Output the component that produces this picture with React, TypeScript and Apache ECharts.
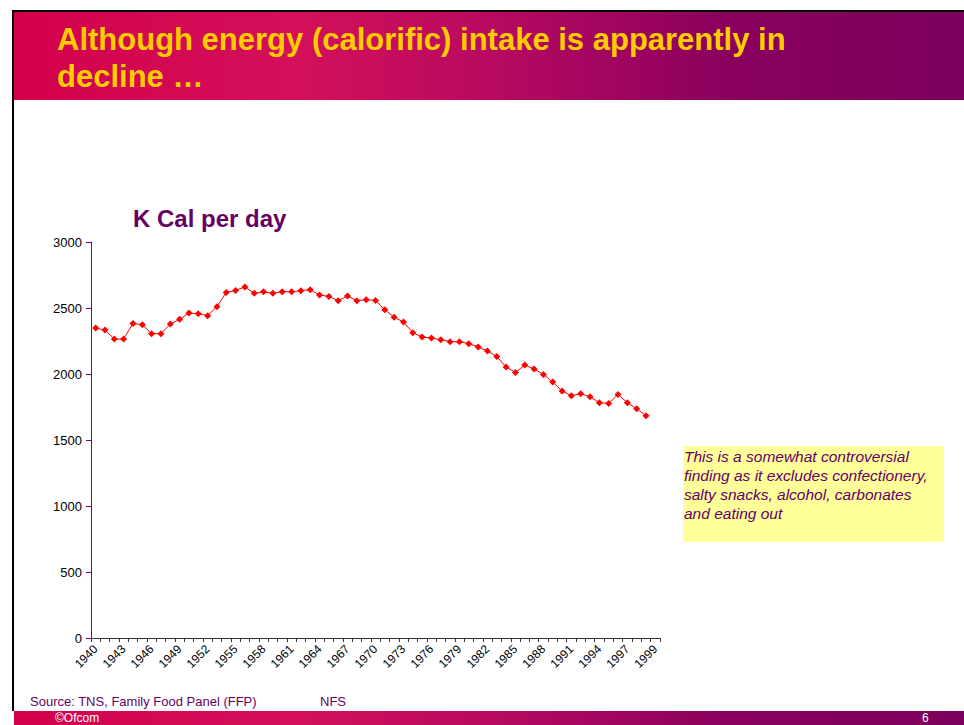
import React, { useEffect, useRef } from "react";
import * as echarts from "echarts";

const years: string[] = [
  "1940","1941","1942","1943","1944","1945","1946","1947","1948","1949",
  "1950","1951","1952","1953","1954","1955","1956","1957","1958","1959",
  "1960","1961","1962","1963","1964","1965","1966","1967","1968","1969",
  "1970","1971","1972","1973","1974","1975","1976","1977","1978","1979",
  "1980","1981","1982","1983","1984","1985","1986","1987","1988","1989",
  "1990","1991","1992","1993","1994","1995","1996","1997","1998","1999","2000",
];

const tickLabels: string[] = [
  "1940","1943","1946","1949","1952","1955","1958","1961","1964","1967",
  "1970","1973","1976","1979","1982","1985","1988","1991","1994","1997","1999",
];

const kcal: (number | null)[] = [
  2348, 2333, 2265, 2265, 2383, 2373, 2305, 2305, 2379, 2414,
  2462, 2457, 2442, 2510, 2618, 2633, 2659, 2611, 2623, 2611,
  2623, 2623, 2631, 2639, 2598, 2588, 2555, 2591, 2555, 2563,
  2557, 2487, 2429, 2394, 2313, 2280, 2273, 2260, 2245, 2245,
  2230, 2205, 2174, 2133, 2053, 2012, 2068, 2038, 1997, 1939,
  1871, 1836, 1851, 1828, 1783, 1777, 1845, 1783, 1737, 1684, null,
];

const titleLines = ["Although energy (calorific) intake is apparently in", "decline \u2026"];
const noteLines = [
  "This is a somewhat controversial",
  "finding as it excludes confectionery,",
  "salty snacks, alcohol, carbonates",
  "and eating out",
];

const FONT = "'Liberation Sans', Arial, sans-serif";
const PURPLE = "#660066";

export default function App() {
  const ref = useRef<HTMLDivElement>(null);
  useEffect(() => {
    document.body.style.margin = "0";
    if (!ref.current) return;
    const chart = echarts.init(ref.current, null, { renderer: "svg" });
    const bandGrad = () =>
      new echarts.graphic.LinearGradient(0, 0, 1, 0, [
        { offset: 0, color: "#d4004c" },
        { offset: 0.3, color: "#d3105a" },
        { offset: 0.5, color: "#b80a60" },
        { offset: 0.75, color: "#8a005e" },
        { offset: 1, color: "#7c005c" },
      ]);
    chart.setOption({
      animation: false,
      backgroundColor: "#ffffff",
      grid: { left: 91, right: 304, top: 242, bottom: 87 },
      xAxis: {
        type: "category",
        data: years,
        boundaryGap: true,
        axisLine: { show: true, lineStyle: { color: "#333333", width: 1 } },
        axisTick: { show: true, interval: 0, length: 4, lineStyle: { color: "#333333" } },
        axisLabel: {
          interval: (idx: number) => idx % 3 === 0,
          rotate: 45,
          margin: 9,
          fontSize: 12,
          fontFamily: FONT,
          color: "#000000",
          formatter: (_v: string, idx: number) => tickLabels[Math.floor(idx / 3)] ?? "",
        },
        splitLine: { show: false },
      },
      yAxis: {
        type: "value",
        min: 0,
        max: 3000,
        interval: 500,
        axisLine: { show: true, lineStyle: { color: "#800080", width: 1 } },
        axisTick: { show: true, length: 5, lineStyle: { color: "#800080" } },
        axisLabel: {
          fontSize: 13,
          fontFamily: FONT,
          color: "#000000",
          margin: 9,
          formatter: (v: number) => String(v),
        },
        splitLine: { show: false },
      },
      series: [
        {
          type: "line",
          data: kcal,
          symbol: "diamond",
          symbolSize: 7,
          showAllSymbol: true,
          itemStyle: { color: "#ff0000" },
          lineStyle: { color: "#ff0000", width: 1 },
        },
      ],
      graphic: [
        { type: "rect", shape: { x: 14, y: 12, width: 950, height: 88 }, style: { fill: bandGrad() }, z: 1 },
        { type: "line", shape: { x1: 13, y1: 11, x2: 964, y2: 11 }, style: { stroke: "#000", lineWidth: 2 }, z: 2 },
        { type: "line", shape: { x1: 13, y1: 10, x2: 13, y2: 711 }, style: { stroke: "#000", lineWidth: 2 }, z: 2 },
        ...titleLines.map((t, i) => ({
          type: "text",
          x: 57,
          y: 39 + i * 37,
          style: {
            text: t,
            fill: "#ffcc00",
            font: `bold 31px ${FONT}`,
            textVerticalAlign: "middle",
          },
          z: 3,
        })),
        {
          type: "text",
          x: 133,
          y: 218,
          style: { text: "K Cal per day", fill: PURPLE, font: `bold 24px ${FONT}`, textVerticalAlign: "middle" },
          z: 3,
        },
        { type: "rect", shape: { x: 683, y: 446, width: 261, height: 96 }, style: { fill: "#ffff99" }, z: 1 },
        ...noteLines.map((t, i) => ({
          type: "text",
          x: 684,
          y: 456 + i * 19.3,
          style: { text: t, fill: PURPLE, font: `italic 15.5px ${FONT}`, textVerticalAlign: "middle" },
          z: 3,
        })),
        {
          type: "text",
          x: 30,
          y: 701,
          style: { text: "Source: TNS, Family Food Panel (FFP)", fill: PURPLE, font: `13px ${FONT}`, textVerticalAlign: "middle" },
          z: 3,
        },
        {
          type: "text",
          x: 320,
          y: 701,
          style: { text: "NFS", fill: PURPLE, font: `13px ${FONT}`, textVerticalAlign: "middle" },
          z: 3,
        },
        { type: "rect", shape: { x: 14, y: 711, width: 950, height: 14 }, style: { fill: bandGrad() }, z: 1 },
        {
          type: "text",
          x: 55,
          y: 718,
          style: { text: "\u00a9Ofcom", fill: "#ffffff", font: `12px ${FONT}`, textVerticalAlign: "middle" },
          z: 3,
        },
        {
          type: "text",
          x: 922,
          y: 718,
          style: { text: "6", fill: "#ffffff", font: `12px ${FONT}`, textVerticalAlign: "middle" },
          z: 3,
        },
      ],
    });
    return () => chart.dispose();
  }, []);
  return <div ref={ref} style={{ width: 964, height: 725 }} />;
}
